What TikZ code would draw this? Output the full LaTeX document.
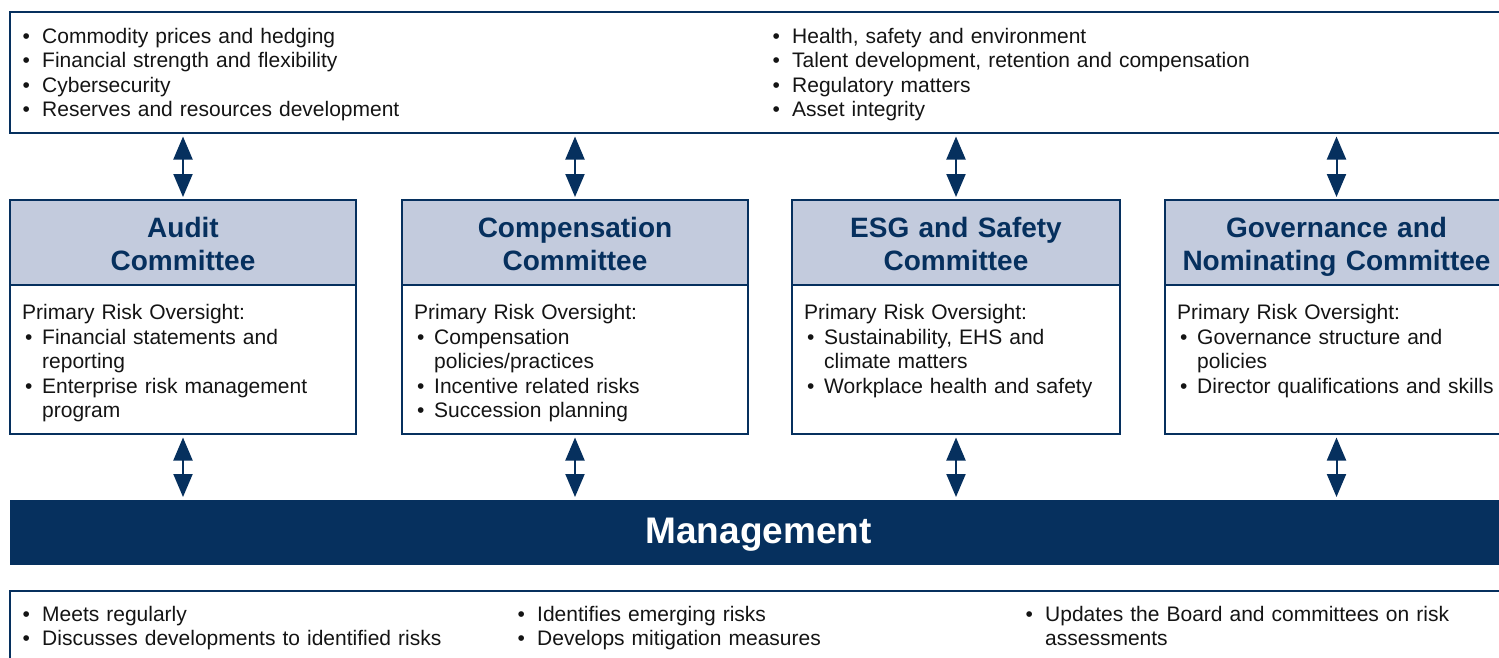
\documentclass[tikz,border=0pt]{standalone}
\usepackage{fontspec}
\setmainfont{Liberation Sans}
\usetikzlibrary{arrows.meta}
\definecolor{navy}{HTML}{06305E}
\definecolor{hdr}{HTML}{C3CBDD}
\definecolor{ink}{HTML}{141414}
\newcommand\bl[1]{\hangindent=20pt\hangafter=1\noindent\makebox[20pt][l]{\hspace{0.5pt}•}#1\par}
\newcommand\blc[1]{\hangindent=20pt\hangafter=1\noindent\makebox[20pt][l]{\hspace{3pt}•}#1\par}
\begin{document}
\begin{tikzpicture}[x=1pt,y=-1pt,
  box/.style={draw=navy, line width=2.5pt, anchor=north west, inner sep=0pt, outer sep=0pt},
  hbox/.style={box, fill=hdr, minimum width=346pt, minimum height=85pt},
  bbox/.style={box, minimum width=346pt, minimum height=149pt},
  txt/.style={font=\fontsize{21}{24.6}\selectfont, text=ink, align=left, text width=560pt, inner sep=0pt, anchor=base west},
  htxt/.style={font=\bfseries\fontsize{28}{33}\selectfont, text=navy, align=center, text width=360pt, inner sep=0pt, anchor=base},
  dbl/.style={{Triangle[width=19pt,length=23pt]}-{Triangle[width=19pt,length=23pt]}, line width=2pt, draw=navy, shorten <=3.5pt, shorten >=3pt}
]
\useasboundingbox (0,0) rectangle (1499,657);
\clip (0,0) rectangle (1499,657);

% top box
\node[box, minimum width=1520pt, minimum height=121pt] (top) at (10,12) {};
\node[txt] (topl) at (22,43) {\bl{Commodity prices and hedging}\bl{Financial strength and flexibility}\bl{Cybersecurity}\bl{Reserves and resources development}};
\node[txt] (topr) at (772,43) {\bl{Health, safety and environment}\bl{Talent development, retention and compensation}\bl{Regulatory matters}\bl{Asset integrity}};

% committee boxes
\node[bbox] (audb) at (10,285) {};
\node[hbox] (audh) at (10,200) {};
\node[bbox] (comb) at (402,285) {};
\node[hbox] (comh) at (402,200) {};
\node[bbox, minimum width=328pt] (esgb) at (792,285) {};
\node[hbox, minimum width=328pt] (esgh) at (792,200) {};
\node[bbox, minimum width=343pt] (govb) at (1165,285) {};
\node[hbox, minimum width=343pt] (govh) at (1165,200) {};

\node[htxt] (audt) at (183,237) {Audit\\Committee};
\node[htxt] (comt) at (575,237) {Compensation\\Committee};
\node[htxt] (esgt) at (956,237) {ESG and Safety\\Committee};
\node[htxt] (govt) at (1336.5,237) {Governance and\\Nominating Committee};

\node[txt] (audx) at (22,319.5) {\noindent Primary Risk Oversight:\par\blc{Financial statements and\newline reporting}\blc{Enterprise risk management\newline program}};
\node[txt] (comx) at (414,319.5) {\noindent Primary Risk Oversight:\par\blc{Compensation\newline policies/practices}\blc{Incentive related risks}\blc{Succession planning}};
\node[txt] (esgx) at (804,319.5) {\noindent Primary Risk Oversight:\par\blc{Sustainability, EHS and\newline climate matters}\blc{Workplace health and safety}};
\node[txt] (govx) at (1177,319.5) {\noindent Primary Risk Oversight:\par\blc{Governance structure and\newline policies}\blc{Director qualifications and skills}};

% management
\node[anchor=north west, fill=navy, minimum width=1497pt, minimum height=65pt, inner sep=0pt, outer sep=0pt] (mgmt) at (10,500) {};
\node[font=\bfseries\fontsize{37}{40}\selectfont, text=white, anchor=base, inner sep=0pt] (mgmtt) at (758.5,543.5) {Management};

% bottom box
\node[box, minimum width=1520pt, minimum height=100pt] (bot) at (10,591) {};
\node[txt] (bot1) at (22,621) {\bl{Meets regularly}\bl{Discusses developments to identified risks}};
\node[txt] (bot2) at (517,621) {\bl{Identifies emerging risks}\bl{Develops mitigation measures}};
\node[txt] (bot3) at (1025,621) {\bl{Updates the Board and committees on risk\newline assessments}};

% arrows
\foreach \c in {aud,com,esg,gov}{
  \draw[dbl] (\c h.north |- top.south) -- (\c h.north);
  \draw[dbl] (\c b.south) -- (\c b.south |- mgmt.north);
}
\end{tikzpicture}
\end{document}
